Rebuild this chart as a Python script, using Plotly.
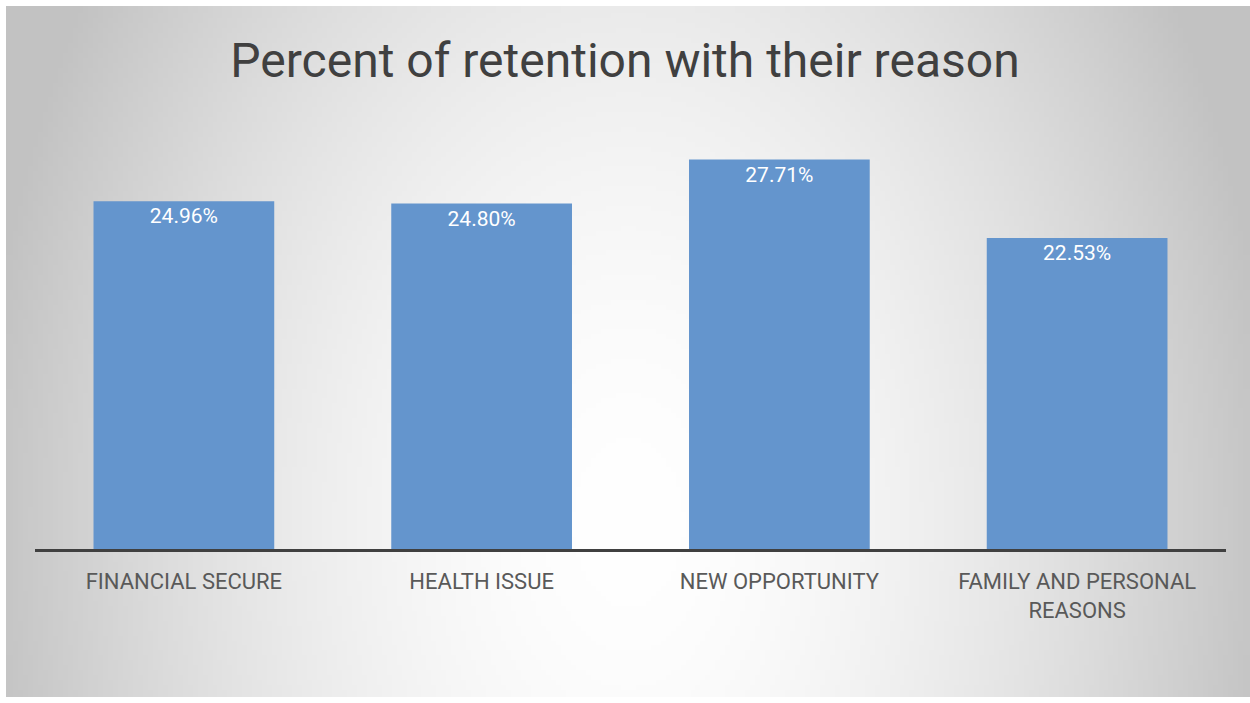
import base64, struct, zlib
import numpy as np
import plotly.graph_objects as go

categories = ["FINANCIAL SECURE", "HEALTH ISSUE", "NEW OPPORTUNITY", "FAMILY AND PERSONAL<br>REASONS"]
values = [24.96, 24.80, 27.71, 22.53]
value_labels = ["24.96%", "24.80%", "27.71%", "22.53%"]
title_text = "Percent of retention with their reason"

# ---- radial gradient background as PNG ----
def make_png(arr):
    h, w = arr.shape
    raw = b"".join(b"\x00" + arr[i].astype(np.uint8).tobytes() for i in range(h))
    def chunk(t, d):
        c = struct.pack(">I", len(d)) + t + d
        return c + struct.pack(">I", zlib.crc32(t + d) & 0xffffffff)
    png = b"\x89PNG\r\n\x1a\n" + chunk(b"IHDR", struct.pack(">IIBBBBB", w, h, 8, 0, 0, 0, 0))
    png += chunk(b"IDAT", zlib.compress(raw, 9)) + chunk(b"IEND", b"")
    return "data:image/png;base64," + base64.b64encode(png).decode()

W, H = 250, 140
yy, xx = np.mgrid[0:H, 0:W]
dx = (xx / (W - 1) - 0.5) / 0.5
dy = (yy / (H - 1) - 0.75) / 0.75
d = np.sqrt(dx ** 2 + (0.55 * dy) ** 2)
g = 255 - 56 * np.clip(d, 0, 1.3) ** 1.7
g = np.clip(g, 194, 255)
bg_src = make_png(g)

# plot area in pixels
L, R, T, B = 35, 1226, 140, 549
PW, PH = R - L, B - T
img_x0, img_y0, img_x1, img_y1 = 6, 6, 1250, 697

fig = go.Figure()
fig.add_trace(go.Bar(
    x=categories, y=values, text=value_labels,
    textposition="inside", insidetextanchor="end",
    textfont=dict(family="Roboto", size=21, color="white"),
    marker=dict(color="#6495CD", line=dict(width=0)),
    hoverinfo="skip",
))

fig.update_layout(
    width=1250, height=703,
    margin=dict(l=L, r=1250 - R, t=T, b=703 - B),
    paper_bgcolor="white", plot_bgcolor="rgba(0,0,0,0)",
    bargap=0.393,
    showlegend=False,
    uniformtext=dict(minsize=21, mode="show"),
    title=dict(text=title_text, x=0.5, xanchor="center", y=1 - 60 / 703, yanchor="middle",
               font=dict(family="Roboto", size=48, color="#404040")),
    xaxis=dict(showline=True, linecolor="#404040", linewidth=3, showgrid=False,
               ticks="outside", ticklen=11, tickcolor="rgba(0,0,0,0)",
               tickfont=dict(family="Roboto", size=22, color="#595959")),
    yaxis=dict(range=[2, 29], showticklabels=False, showgrid=False, zeroline=False, showline=False),
    images=[dict(source=bg_src, xref="paper", yref="paper",
                 x=(img_x0 - L) / PW, y=(B - img_y0) / PH,
                 sizex=(img_x1 - img_x0) / PW, sizey=(img_y1 - img_y0) / PH,
                 sizing="stretch", layer="below", xanchor="left", yanchor="top")],
)

fig.write_html("out.html")
